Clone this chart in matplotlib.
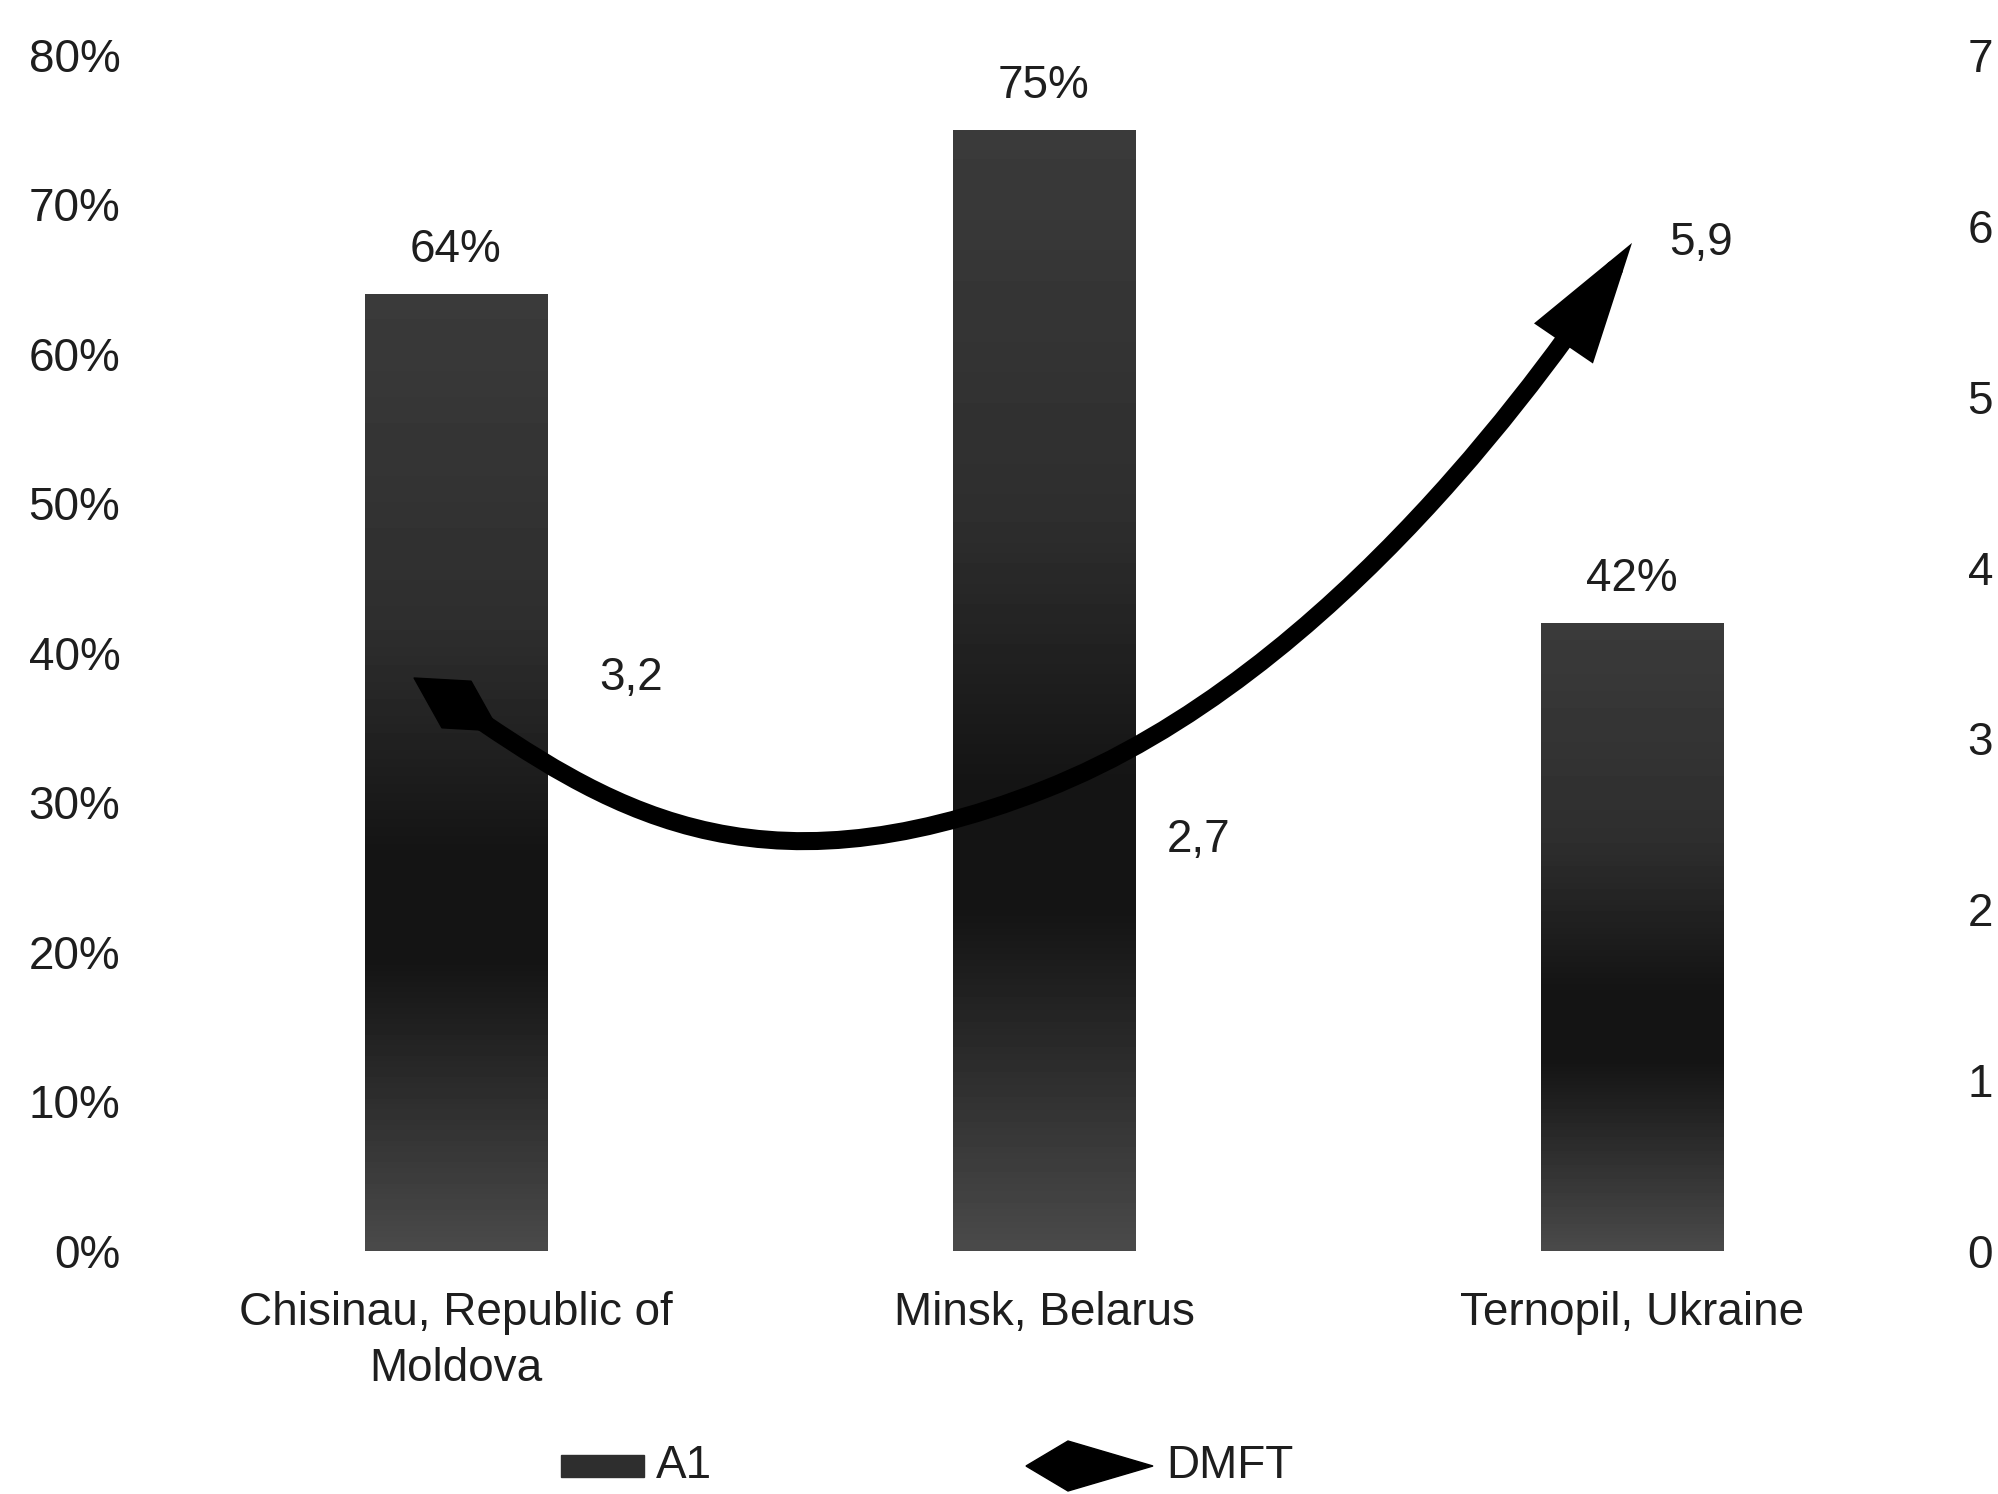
import numpy as np
import matplotlib
matplotlib.use("Agg")
import matplotlib.pyplot as plt
from matplotlib.path import Path
from matplotlib.patches import FancyArrowPatch, Rectangle, Polygon
from matplotlib.markers import MarkerStyle
from matplotlib.transforms import Affine2D
from matplotlib.ticker import FuncFormatter

plt.rcParams['font.family'] = ['Liberation Sans', 'DejaVu Sans']

cities = ["Chisinau, Republic of\nMoldova", "Minsk, Belarus", "Ternopil, Ukraine"]
a1 = [0.64, 0.75, 0.42]
dmft = [3.2, 2.7, 5.9]
dmft_labels = ["3,2", "2,7", "5,9"]
dmft_offsets = [(126, 19), (111, -36), (50, 0)]

W, H = 1998, 1494
fig = plt.figure(figsize=(W / 100, H / 100), dpi=100)
ax = fig.add_axes([162 / W, 0.1627, (1926 - 162) / W, 0.9632 - 0.1627])
ax2 = ax.twinx()

txt = '#1e1e1e'
fs = 33
x = np.arange(len(cities))

# bars, shaded dark toward the lower third
bars = ax.bar(x, a1, width=0.31, color='#383838', zorder=2)
shade = np.interp(np.linspace(0, 1, 200), [0, 0.1, 0.3, 0.42, 0.65, 1.0],
                  [0.29, 0.22, 0.08, 0.08, 0.18, 0.23])[::-1].reshape(-1, 1)
for b in bars:
    x0, w, h = b.get_x(), b.get_width(), b.get_height()
    im = ax.imshow(shade, extent=[x0, x0 + w, 0, h], cmap='gray', vmin=0, vmax=1,
                   aspect='auto', zorder=3, interpolation='bilinear')
    im.set_clip_path(b)
ax.bar_label(bars, labels=[f"{v * 100:.0f}%" for v in a1], padding=16,
             fontsize=fs, color=txt)

ax.set_xlim(-0.5, 2.5)
ax.set_ylim(0, 0.8)
ax.set_yticks(np.arange(0, 0.81, 0.1))
ax.yaxis.set_major_formatter(FuncFormatter(lambda v, p: f"{v * 100:.0f}%"))
ax.set_xticks(x)
ax.set_xticklabels(cities, fontsize=fs, color=txt, linespacing=1.35)
ax.tick_params(axis='x', length=0, pad=29)
ax.tick_params(axis='y', length=0, pad=30, labelsize=fs, labelcolor=txt)

ax2.set_ylim(0, 7)
ax2.set_yticks(range(8))
ax2.tick_params(axis='y', length=0, pad=30, labelsize=fs, labelcolor=txt)
for a in (ax, ax2):
    for s in a.spines.values():
        s.set_visible(False)

# smoothed DMFT line ending in an arrow
k = 0.25
p = np.column_stack([x, dmft]).astype(float)
m1 = p[1] - (p[2] - p[0]) * k
m2 = p[1] + (p[2] - p[0]) * k
s1 = p[0] + (m1 - p[0]) * k * 2
s2 = p[2] + (m2 - p[2]) * k
verts = [p[0], s1, m1, p[1], m2, s2, p[2]]
codes = [Path.MOVETO] + [Path.CURVE4] * 6
arrow = FancyArrowPatch(path=Path(verts, codes), transform=ax2.transData,
                        arrowstyle='-|>,head_length=58,head_width=17',
                        mutation_scale=1, color='black', lw=13,
                        joinstyle='miter', zorder=5)
ax2.add_patch(arrow)

diamond = Path([(-1, 0), (0, 0.55), (1, 0), (0, -0.55), (-1, 0)],
               [Path.MOVETO, Path.LINETO, Path.LINETO, Path.LINETO, Path.CLOSEPOLY])
start_marker = MarkerStyle(diamond, transform=Affine2D().rotate_deg(-32))
ax2.plot([x[0]], [dmft[0]], linestyle='none', marker=start_marker,
         markersize=72, color='black', zorder=6)

for xi, v, lab, off in zip(x, dmft, dmft_labels, dmft_offsets):
    ax2.annotate(lab, (xi, v), xytext=off, textcoords='offset points',
                 ha='center', va='center', fontsize=fs, color=txt)

# legend
ly = 1466
fig.patches.append(Rectangle((561 / W, (H - ly - 11) / H), 83 / W, 22 / H,
                             transform=fig.transFigure, color='#2e2e2e'))
fig.text(656 / W, (H - ly) / H, "A1", fontsize=fs, color=txt, va='center', ha='left')
fig.patches.append(Polygon([(1026 / W, (H - ly) / H), (1068 / W, (H - ly + 25) / H),
                            (1153 / W, (H - ly) / H), (1068 / W, (H - ly - 25) / H)],
                           closed=True, transform=fig.transFigure, color='black'))
fig.text(1166 / W, (H - ly) / H, "DMFT", fontsize=fs, color=txt, va='center', ha='left')

fig.savefig("out.png", dpi=100, facecolor='white')
